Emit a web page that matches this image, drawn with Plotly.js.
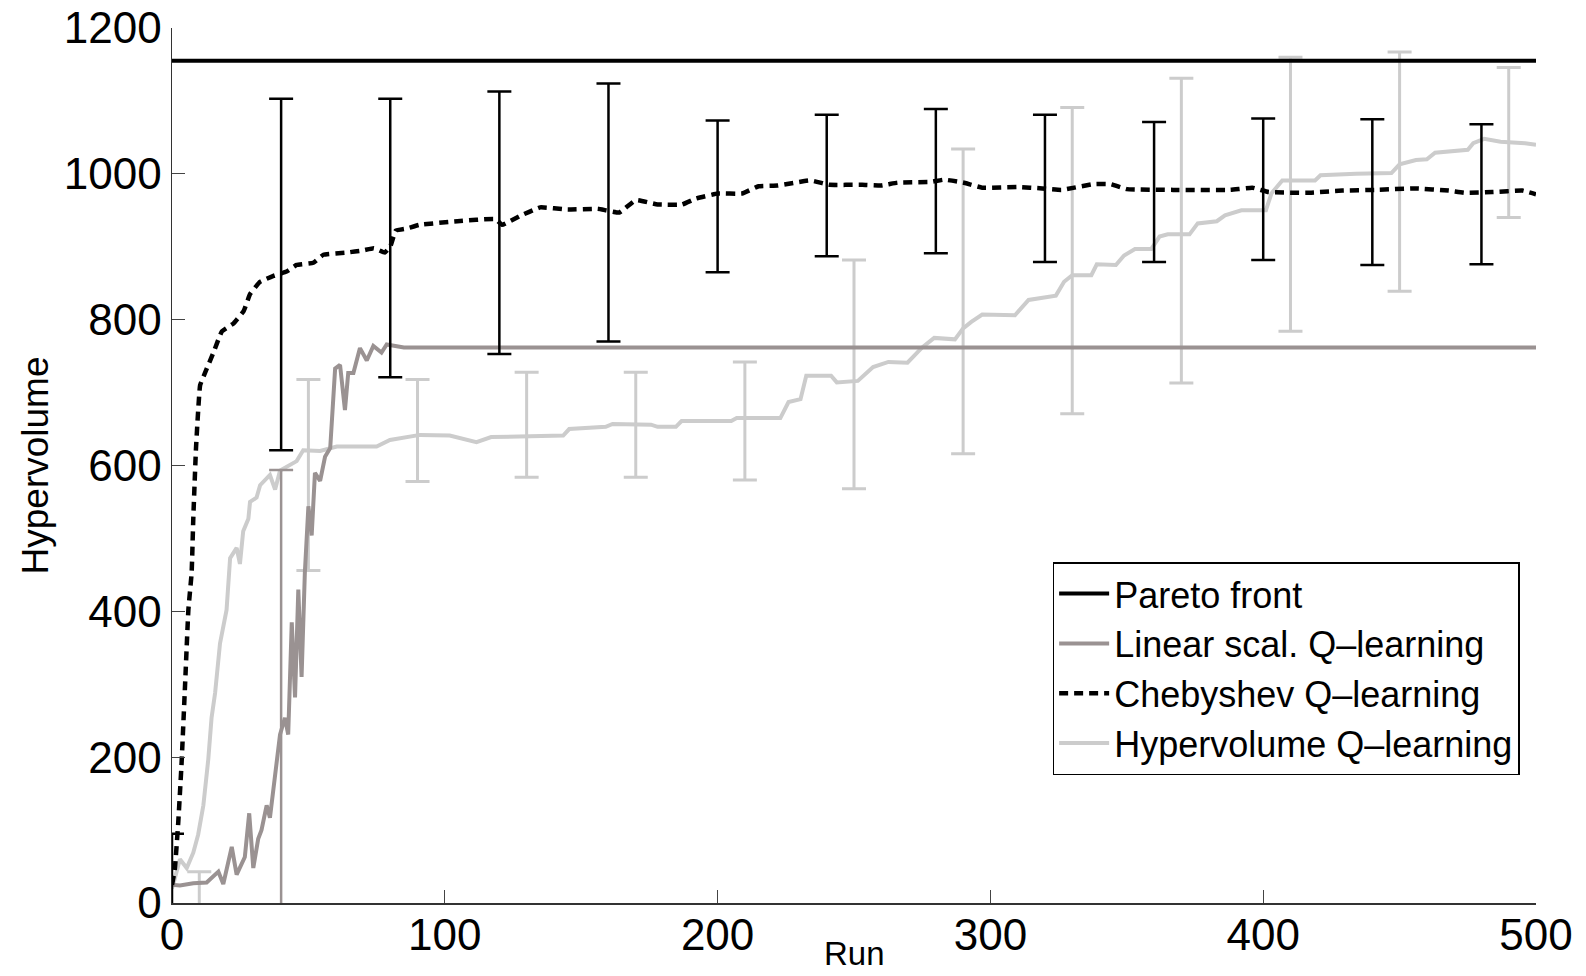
<!DOCTYPE html>
<html>
<head>
<meta charset="utf-8">
<script src="https://cdn.plot.ly/plotly-3.0.1.min.js"></script>
<style>html,body{margin:0;padding:0;background:#fff;}#chart{width:1586px;height:976px;}</style>
</head>
<body>
<div id="chart"></div>
<script>
// ---------- data ----------
const paretoRuns = [0, 500];
const paretoValues = [1155, 1155];

const linearRuns = [0, 2.9, 7.8, 12.7, 17, 18.8, 21.9, 23.7, 26.7, 28.3, 29.8, 31.6, 32.8, 34.7, 35.9, 37.8, 39.6, 41.4, 42.6, 43.9, 45.1, 46.3, 47.5, 48.7, 50, 51.2, 52.4, 54.3, 56.1, 58, 59.8, 61.6, 63.4, 64.6, 66.5, 68.9, 71.4, 73.8, 76.8, 78.7, 85, 500];
const linearValues = [25, 24, 27, 28, 43, 26, 77, 39, 63, 123, 48, 88, 100, 134, 117, 174, 231, 254, 231, 385, 282, 430, 310, 453, 544, 504, 590, 579, 612, 624, 733, 738, 676, 727, 727, 761, 744, 764, 755, 766, 762, 762];

const chebRuns = [0, 1, 2.3, 3.5, 4.8, 6, 7.2, 7.8, 8.8, 10.3, 12.1, 15.2, 18.3, 22.6, 26.3, 28.6, 32.3, 37.2, 42, 45.7, 51.8, 55.5, 64, 70, 74, 78, 80, 82, 86, 90.6, 104.6, 118.6, 121, 128, 135, 145, 156, 164, 170, 178, 187, 192, 200, 209, 215, 222, 234, 241, 253, 260, 266, 278, 283, 290, 297, 310, 319, 326, 338, 344, 350, 367, 388, 396, 402, 416, 429, 441, 456, 468, 474, 484, 495, 500];
const chebValues = [25, 45, 111, 191, 300, 402, 453, 527, 624, 710, 727, 755, 784, 795, 812, 835, 852, 860, 866, 875, 878, 889, 892, 895, 898, 892, 900, 922, 925, 930, 935, 938, 930, 943, 954, 951, 952, 947, 964, 958, 958, 966, 973, 973, 983, 984, 991, 985, 985, 984, 988, 989, 992, 988, 981, 982, 980, 978, 986, 986, 979, 978, 978, 981, 975, 974, 977, 978, 980, 977, 974, 975, 977, 972];

const hvRuns = [0, 0.5, 2.9, 5.4, 7.8, 9.6, 11.5, 13.3, 14.5, 15.8, 17.6, 20, 21.3, 23.7, 24.9, 26.1, 28, 28.6, 31, 32.3, 35.9, 37.8, 39.6, 45.7, 48.1, 54.3, 60.4, 75, 79.9, 90.9, 101.8, 111.6, 117, 143.4, 145.6, 159, 161.5, 175.6, 178, 184.7, 186.8, 205, 207, 223, 226, 230.4, 232.5, 241.6, 243.7, 251.4, 257, 262.6, 269.6, 275, 279.4, 287, 290, 293, 297, 309, 314, 324, 327, 330, 337, 339, 346, 349, 353, 359, 362, 365, 373, 376, 383, 386, 392, 401, 403, 407, 419, 421, 434, 447, 450, 456, 460, 463, 475, 477, 481, 487, 496, 500];
const hvValues = [20, 26, 60, 48, 69, 94, 134, 197, 254, 288, 356, 402, 473, 487, 465, 510, 527, 550, 556, 573, 587, 567, 593, 606, 621, 620, 626, 626, 635, 642, 641, 632, 639, 641, 650, 653, 657, 656, 653, 653, 661, 661, 665, 665, 687, 691, 723, 723, 714, 716, 735, 742, 741, 762, 775, 773, 788, 797, 807, 806, 827, 833, 852, 861, 861, 876, 875, 888, 897, 897, 914, 917, 917, 932, 935, 943, 950, 950, 973, 991, 991, 998, 1000, 1001, 1013, 1019, 1020, 1029, 1033, 1042, 1048, 1044, 1042, 1040];

// error bars (mean +/- spread)
const chebErrRuns = [0, 40, 80, 120, 160, 200, 240, 280, 320, 360, 400, 440, 480];
const chebErrMean = [30, 862, 912, 933, 947, 969, 984, 990, 980, 975, 979, 975, 972];
const chebErrSpread = [65, 241, 191, 180, 177, 104, 97, 99, 101, 96, 97, 100, 96];

const linearErrRuns = [40];
const linearErrMean = [231];
const linearErrSpread = [363];

const hvErrRuns = [10, 50, 90, 130, 170, 210, 250, 290, 330, 370, 410, 450, 490];
const hvErrMean = [15, 587, 648, 656, 656, 661, 725, 825, 881, 922, 972, 1003, 1043];
const hvErrSpread = [28, 131, 70, 72, 72, 81, 157, 209, 210, 209, 188, 164, 103];

const xTicks = [0, 100, 200, 300, 400, 500];
const yTicks = [0, 200, 400, 600, 800, 1000, 1200];

const names = ['Pareto front', 'Linear scal. Q\u2013learning', 'Chebyshev Q\u2013learning', 'Hypervolume Q\u2013learning'];

// ---------- styles ----------
const BLACK = '#000000';
const LIN = '#9a9292';
const HV = '#cccccc';
const FONT = 'Liberation Sans, Arial, Helvetica, sans-serif';

function errTrace(x, y, spread, color, thick) {
  return {
    x: x, y: y, type: 'scatter', mode: 'markers',
    marker: {size: 1, opacity: 0, color: color},
    error_y: {type: 'data', array: spread, visible: true, color: color, thickness: thick, width: 12},
    showlegend: false, hoverinfo: 'skip'
  };
}

const traces = [
  errTrace(hvErrRuns, hvErrMean, hvErrSpread, HV, 3),
  {x: hvRuns, y: hvValues, type: 'scatter', mode: 'lines', name: names[3], legendrank: 4,
   line: {color: HV, width: 4}},
  errTrace(linearErrRuns, linearErrMean, linearErrSpread, LIN, 2.5),
  {x: linearRuns, y: linearValues, type: 'scatter', mode: 'lines', name: names[1], legendrank: 2,
   line: {color: LIN, width: 4}},
  {x: chebRuns, y: chebValues, type: 'scatter', mode: 'lines', name: names[2], legendrank: 3,
   line: {color: BLACK, width: 4.5, dash: '9px,6px', shape: 'spline', smoothing: 0.3}},
  errTrace(chebErrRuns, chebErrMean, chebErrSpread, BLACK, 2.5),
  {x: paretoRuns, y: paretoValues, type: 'scatter', mode: 'lines', name: names[0], legendrank: 1,
   line: {color: BLACK, width: 4}}
];

const layout = {
  width: 1586, height: 976,
  margin: {l: 172, r: 50, t: 28, b: 73, pad: 0},
  paper_bgcolor: '#ffffff', plot_bgcolor: '#ffffff',
  font: {family: FONT, color: '#000000'},
  showlegend: true,
  legend: {
    x: 0.988, xanchor: 'right', y: 0.3895, yanchor: 'top',
    bgcolor: '#ffffff', bordercolor: '#000000', borderwidth: 1.5,
    font: {family: FONT, size: 36, color: '#000000'},
    itemwidth: 50, tracegroupgap: 0
  },
  xaxis: {
    range: [0, 500], tickvals: xTicks, ticktext: xTicks.map(String),
    ticks: 'inside', ticklen: 13, tickwidth: 1.3, tickcolor: '#444444',
    showline: true, linecolor: '#333333', linewidth: 1.5, mirror: false,
    showgrid: false, zeroline: false,
    tickfont: {family: FONT, size: 44, color: '#000000'},
    ticklabelstandoff: -7,
    title: {text: ''}
  },
  yaxis: {
    range: [0, 1200], tickvals: yTicks, ticktext: yTicks.map(String),
    ticks: 'inside', ticklen: 13, tickwidth: 1.3, tickcolor: '#444444',
    showline: true, linecolor: '#333333', linewidth: 1.5, mirror: false,
    showgrid: false, zeroline: false,
    tickfont: {family: FONT, size: 44, color: '#000000'},
    ticklabelstandoff: 0,
    title: {text: ''}
  },
  annotations: [
    {text: 'Run', xref: 'paper', yref: 'paper', x: 0.5, y: 0, xanchor: 'center', yanchor: 'middle',
     yshift: -50, showarrow: false, font: {family: FONT, size: 33, color: '#000000'}},
    {text: 'Hypervolume', xref: 'paper', yref: 'paper', x: 0, y: 0.5, xanchor: 'center', yanchor: 'middle',
     xshift: -137, textangle: -90, showarrow: false, font: {family: FONT, size: 37, color: '#000000'}}
  ]
};

Plotly.newPlot('chart', traces, layout, {displayModeBar: false, staticPlot: true});
</script>
</body>
</html>
